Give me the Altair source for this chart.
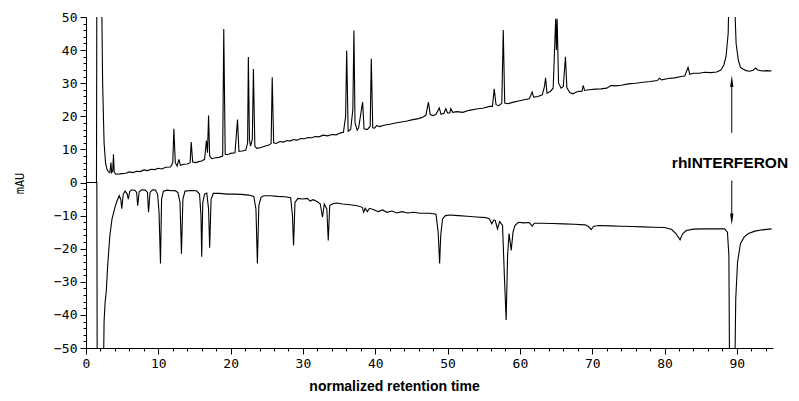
import altair as alt
import pandas as pd

# Upper chromatogram (retention time, mAU)
upper_x = [0, 1.45, 1.5, 2.15, 2.3, 2.5, 2.7, 2.9, 3.1, 3.3, 3.45, 3.55, 3.7, 3.8, 3.9, 4.1, 4.7, 5.5, 6.0, 6.5,
           7.0, 7.5, 8.0, 8.5, 9.0, 9.5, 10.0, 10.5, 11.0, 11.7, 12.0, 12.15, 12.35, 12.6, 12.85, 13.05, 13.5, 14.0, 14.4, 14.55,
           14.75, 15.2, 15.6, 16.0, 16.4, 16.65, 16.8, 16.95, 17.1, 17.4, 17.9, 18.4, 18.9, 19.05, 19.25, 19.6, 20.0, 20.6, 20.95, 21.15,
           21.6, 22.1, 22.35, 22.45, 22.6, 22.75, 23.0, 23.15, 23.35, 23.6, 24.2, 24.8, 25.3, 25.6, 25.75, 25.95, 26.3, 26.8, 27.3, 27.8,
           28.2, 28.7, 29.2, 29.7, 30.2, 30.7, 31.2, 31.7, 32.2, 32.8, 33.4, 34.0, 34.6, 35.2, 35.6, 35.9, 36.05, 36.25, 36.6, 36.9,
           37.05, 37.2, 37.5, 37.7, 38.25, 38.45, 38.9, 39.3, 39.45, 39.65, 39.9, 40.2, 40.6, 41.2, 42.0, 42.8, 43.6, 44.4, 45.2, 46.0,
           46.6, 47.0, 47.35, 47.6, 48.0, 48.4, 48.85, 49.1, 49.5, 49.75, 50.0, 50.3, 50.45, 50.7, 51.3, 52.1, 53.0, 54.0, 55.0, 55.8,
           56.2, 56.45, 56.7, 57.1, 57.5, 57.7, 57.9, 58.3, 59.0, 59.8, 60.6, 61.3, 61.7, 61.9, 62.5, 63.1, 63.4, 63.55, 63.75, 64.2,
           64.6, 64.95, 65.05, 65.15, 65.35, 65.7, 66.0, 66.3, 66.5, 66.9, 67.3, 68.0, 68.6, 68.75, 68.95, 69.6, 70.4, 71.2, 72.0, 72.6,
           73.2, 74.0, 75.0, 76.0, 77.0, 78.0, 79.0, 79.3, 79.6, 80.5, 81.4, 82.3, 82.8, 83.25, 83.5, 84.0, 84.8, 85.6, 86.4, 87.2,
           87.8, 88.2, 88.5, 88.8, 88.95, 89.6, 89.9, 90.2, 90.5, 90.9, 91.3, 91.8, 92.3, 92.6, 92.9, 93.5, 94.2, 94.8]
upper_y = [0, 0, 60, 60, 30, 12, 6, 4, 3.2, 3.0, 6.0, 3.0, 3.5, 8.5, 3.2, 2.5, 2.6, 2.8, 3.2, 3.0,
           3.4, 3.3, 3.8, 3.6, 4.0, 3.9, 4.3, 4.1, 4.6, 4.7, 6.0, 16.2, 6.0, 5.0, 7.0, 5.2, 5.5, 5.6, 6.0, 12.2,
           6.2, 6.0, 6.3, 6.5, 7.0, 12.7, 9.0, 20.2, 8.0, 7.2, 7.5, 7.6, 8.0, 46.4, 8.5, 8.4, 8.8, 9.0, 19.0, 9.4,
           9.5, 9.8, 12.0, 37.9, 13.0, 11.0, 13.0, 34.3, 11.0, 10.3, 10.6, 11.0, 11.3, 11.8, 31.8, 12.0, 11.8, 12.4, 12.2, 12.7,
           12.5, 13.0, 12.8, 13.3, 13.2, 13.6, 13.5, 13.9, 13.8, 14.3, 14.1, 14.5, 14.4, 15.0, 15.2, 20.0, 39.9, 15.5, 16.0, 22.0,
           45.9, 18.0, 15.8, 16.5, 24.3, 16.2, 16.0, 17.0, 37.4, 16.5, 16.4, 17.2, 16.9, 17.3, 17.6, 18.0, 18.3, 18.6, 19.0, 19.3,
           19.8, 20.3, 24.3, 20.5, 20.2, 20.6, 22.5, 20.6, 20.9, 22.3, 21.0, 21.0, 22.3, 21.2, 21.4, 21.2, 21.8, 22.2, 22.5, 23.0,
           23.0, 28.3, 23.5, 23.2, 24.0, 46.1, 24.0, 23.8, 24.2, 24.6, 25.0, 25.3, 27.3, 25.8, 26.0, 26.5, 29.0, 31.6, 27.0, 27.5,
           28.5, 49.5, 40.0, 49.5, 30.0, 28.5, 29.0, 38.0, 28.6, 27.2, 26.8, 27.5, 27.6, 29.3, 27.8, 28.0, 28.2, 28.3, 28.5, 29.3,
           29.2, 29.4, 29.8, 30.0, 30.3, 30.5, 30.8, 31.5, 31.0, 31.4, 31.6, 32.0, 32.2, 34.8, 32.7, 33.0, 33.0, 33.3, 33.2, 33.4,
           34.0, 35.5, 38.0, 45.0, 60, 60, 42.0, 37.0, 34.8, 34.2, 33.8, 33.6, 34.0, 34.6, 34.0, 33.7, 33.8, 33.7]

# Lower (inverted) chromatogram
lower_x = [0, 1.5, 1.55, 2.4, 2.5, 2.65, 2.8, 3.0, 3.3, 3.6, 4.0, 4.3, 4.6, 4.8, 4.95, 5.15, 5.4, 5.7, 5.85, 6.05,
           6.3, 6.8, 7.0, 7.15, 7.35, 7.7, 8.2, 8.5, 8.65, 8.85, 9.2, 9.6, 9.9, 10.1, 10.3, 10.45, 10.7, 11.2, 11.8, 12.3,
           12.7, 13.0, 13.2, 13.4, 13.7, 14.5, 15.3, 15.7, 15.9, 16.0, 16.15, 16.4, 16.7, 16.95, 17.1, 17.3, 17.6, 18.5, 19.5, 20.5,
           21.5, 22.5, 23.2, 23.5, 23.7, 23.9, 24.2, 24.6, 25.5, 26.5, 27.5, 28.3, 28.55, 28.7, 28.9, 29.3, 30.0, 30.6, 31.0, 31.4,
           32.0, 32.4, 32.7, 32.95, 33.3, 33.5, 33.7, 34.1, 34.7, 35.5, 36.5, 37.5, 38.2, 38.4, 38.6, 38.9, 39.2, 39.8, 40.4, 41.0,
           41.6, 42.3, 43.0, 43.7, 44.5, 45.3, 46.2, 47.5, 48.4, 48.7, 48.9, 49.05, 49.3, 49.7, 50.3, 51.5, 52.7, 54.0, 55.3, 55.8,
           56.1, 56.4, 56.6, 56.9, 57.2, 57.6, 57.85, 58.1, 58.3, 58.5, 58.8, 59.05, 59.3, 59.8, 60.5, 61.3, 61.7, 62.0, 63.0, 64.5,
           66.0, 67.5, 69.0, 69.5, 69.85, 70.2, 71.0, 72.5, 74.0, 75.5, 77.0, 78.5, 80.0, 81.0, 81.6, 82.15, 82.5, 83.0, 84.0, 85.5,
           87.0, 88.3, 88.7, 88.9, 89.0, 89.7, 89.85, 90.1, 90.5, 91.0, 91.6, 92.5, 93.5, 94.8]
lower_y = [0, 0, -60, -60, -42, -36, -33, -25, -16, -11, -7.5, -5.5, -4.0, -5.0, -7.9, -3.5, -2.6, -3.5, -5.0, -2.7,
           -2.2, -2.4, -3.0, -7.0, -2.8, -2.2, -2.3, -3.0, -9.0, -3.0, -2.2, -2.3, -3.5, -9.0, -24.5, -5.0, -2.6, -2.3, -2.5, -2.4,
           -3.0, -6.0, -21.5, -5.0, -2.6, -2.4, -2.5, -3.5, -10.0, -22.4, -6.0, -3.5, -3.2, -8.0, -19.7, -5.0, -3.3, -3.3, -3.5, -3.5,
           -3.6, -3.8, -4.2, -8.0, -24.5, -7.0, -4.5, -4.0, -4.0, -4.2, -4.3, -4.6, -10.0, -19.0, -6.0, -4.8, -5.0, -4.8, -5.6, -5.2,
           -5.8, -6.5, -10.5, -6.5, -8.0, -17.5, -7.0, -6.4, -6.2, -6.5, -6.7, -7.0, -7.5, -9.0, -7.8, -8.8, -7.8, -8.2, -8.8, -8.3,
           -9.0, -8.6, -9.2, -8.8, -9.2, -9.0, -9.3, -9.3, -9.6, -15.0, -24.5, -16.0, -11.0, -10.0, -9.8, -10.0, -10.2, -10.4, -10.6, -11.0,
           -12.5, -11.3, -11.5, -14.0, -11.8, -13.0, -28.0, -41.5, -22.0, -15.4, -20.5, -15.0, -13.0, -12.0, -12.2, -12.1, -13.2, -12.3, -12.3, -12.4,
           -12.5, -12.6, -12.8, -13.3, -14.2, -13.2, -13.0, -13.1, -13.2, -13.3, -13.4, -13.5, -13.6, -14.2, -15.5, -17.3, -15.5, -14.5, -14.1, -14.0,
           -14.0, -14.0, -15.0, -22.0, -60, -60, -35.0, -24.0, -18.5, -16.5, -15.4, -14.7, -14.3, -14.0]

x_ticks = [v * 2 for v in range(48)]
y_ticks = [v * 2 - 50 for v in range(51)]
label_text = "rhINTERFERON"

rows = []
for i, (x, y) in enumerate(zip(upper_x, upper_y)):
    rows.append({"t": x, "mAU": y, "trace": "upper", "i": i})
for i, (x, y) in enumerate(zip(lower_x, lower_y)):
    rows.append({"t": x, "mAU": y, "trace": "lower", "i": i})
df = pd.DataFrame(rows)

tick_font = "DejaVu Sans Mono"
major = "datum.value % 10 === 0"

x_scale = alt.Scale(domain=[0, 95], nice=False, zero=False)
y_scale = alt.Scale(domain=[-50, 50], nice=False)

x_axis = alt.Axis(
    values=x_ticks, tickCount=200, format="d",
    labelExpr=f"{major} ? datum.label : ''", labelOverlap=False,
    ticks=True, tickWidth=1, tickOpacity=1, tickColor="black",
    tickSize={"condition": {"test": major, "value": 6}, "value": 3},
    labelFont=tick_font, labelFontSize=13, labelColor="black", labelPadding=3,
    domainColor="black", grid=False, labelFlush=False,
    title="normalized retention time", titleFont="Liberation Sans", titleFontSize=14,
    titleFontWeight="bold", titleColor="black", titleX=308, titleY=38,
    titleAlign="center", titleBaseline="middle",
)
y_axis = alt.Axis(
    values=y_ticks, tickCount=200, format="d",
    labelExpr=f"{major} ? datum.label : ''", labelOverlap=False,
    ticks=True, tickWidth=1, tickOpacity=1, tickColor="black",
    tickSize={"condition": {"test": major, "value": 6}, "value": 3},
    labelFont=tick_font, labelFontSize=13, labelColor="black", labelPadding=3,
    domainColor="black", grid=False, labelFlush=False,
    title="mAU", titleFont=tick_font, titleFontSize=12, titleFontWeight="normal",
    titleColor="black", titleX=-67, titleY=166, titleAngle=270,
    titleAlign="center", titleBaseline="middle",
)

lines = alt.Chart(df).mark_line(color="black", strokeWidth=1.1, clip=True).encode(
    x=alt.X("t:Q", scale=x_scale, axis=x_axis),
    y=alt.Y("mAU:Q", scale=y_scale, axis=y_axis),
    detail="trace:N",
    order="i:Q",
)

text = alt.Chart().mark_text(
    text=label_text, font="Liberation Sans", fontSize=15.5, fontWeight="bold",
    color="black", align="center", baseline="middle",
).encode(x=alt.datum(89.05), y=alt.datum(5.9))

up_shaft = alt.Chart().mark_rule(color="black", strokeWidth=1).encode(
    x=alt.datum(89.3), y=alt.datum(15.0), y2=alt.datum(29.0))
down_shaft = alt.Chart().mark_rule(color="black", strokeWidth=1).encode(
    x=alt.datum(89.3), y=alt.datum(0.6), y2=alt.datum(-9.5))
up_head = alt.Chart().mark_point(
    shape="wedge", filled=True, color="black", size=180, opacity=1, angle=0,
).encode(x=alt.datum(89.3), y=alt.datum(30.0))
down_head = alt.Chart().mark_point(
    shape="wedge", filled=True, color="black", size=180, opacity=1, angle=180,
).encode(x=alt.datum(89.3), y=alt.datum(-10.5))

chart = alt.layer(lines, text, up_shaft, down_shaft, up_head, down_head).properties(
    width=687, height=331,
    padding={"left": 86, "top": 17, "right": 26, "bottom": 53},
    autosize=alt.AutoSizeParams(type="none"),
    background="white",
).configure_view(stroke=None)

chart.save("out.html", embed_options={"renderer": "svg", "actions": False})
